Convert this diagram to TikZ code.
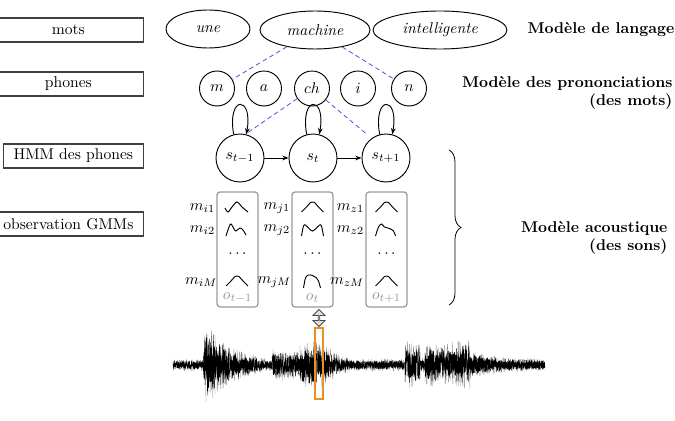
\documentclass[tikz,border=0pt]{standalone}
\usetikzlibrary{shapes.geometric,shapes.arrows,arrows.meta,decorations.pathreplacing}
\definecolor{orng}{RGB}{232,145,28}
\definecolor{lnkblue}{RGB}{80,80,215}
\def\pxu{0.64pt}
\begin{document}
\begin{tikzpicture}[x=0.64pt,y=0.64pt,
  lbox/.style={draw=black!75, line width=0.8pt, minimum height=24*\pxu, anchor=east, inner sep=2pt},
  word/.style={ellipse, draw, line width=0.6pt, minimum height=38*\pxu, font=\itshape, inner sep=1pt},
  phone/.style={circle, draw, line width=0.6pt, minimum size=35*\pxu, inner sep=0pt},
  state/.style={circle, draw, line width=0.6pt, minimum size=48*\pxu, inner sep=0pt},
  obsbox/.style={draw=black!40, rounded corners=2pt, minimum width=41*\pxu, minimum height=115*\pxu, line width=0.8pt},
  lnk/.style={draw=lnkblue, dash pattern=on 3pt off 2pt, line width=0.5pt},
  tr/.style={-{Stealth[length=4pt,width=3pt]}, line width=0.6pt},
  mlab/.style={anchor=east, inner sep=1pt},
  wave/.style={line width=0.3pt, black},
  wavefringe/.style={line width=0.2pt, black!50},
  gauss/.style={line width=0.6pt},
  gbump/.pic={\draw[gauss] plot[smooth] coordinates {(-11,-5)(-6,0)(-2,4.5)(0,5)(2,4.5)(6,0)(11,-5)};},
  gcheck/.pic={\draw[gauss] plot[smooth] coordinates {(-12,-1)(-9,-5)(-5,0)(0,5)(5,0)(11,-5)};},
  gmleft/.pic={\draw[gauss] plot[smooth] coordinates {(-11,-6)(-8,3)(-6,6)(-3,1)(-1,-1)(3,2)(6,0)(9,-5)};},
  gmeq/.pic={\draw[gauss] plot[smooth] coordinates {(-11,-6)(-9,4)(-7,5)(-3,1)(0,-1)(3,1)(7,5)(9,4)(11,-6)};},
  gskew/.pic={\draw[gauss] plot[smooth] coordinates {(-9,-7)(-7,3)(-4,6)(0,5.5)(4,3)(6,0)(8,-7)};},
  gshoulder/.pic={\draw[gauss] plot[smooth] coordinates {(-11,-6)(-8,3)(-5,6)(-2,3)(3,1.5)(7,-1)(9,-6)};}
]
\useasboundingbox (0,0) rectangle (675,-421);

% left boxes
\node[lbox, minimum width=150*\pxu] (bmots) at (144,-30) {mots};
\node[lbox, minimum width=150*\pxu] (bphones) at (144,-84) {phones};
\node[lbox, minimum width=140*\pxu] (bhmm) at (144,-156) {HMM des phones};
\node[lbox, minimum width=150*\pxu] (bobs) at (144,-224) {observation GMMs};

% words
\node[word, minimum width=84*\pxu] (une) at (208,-29) {une};
\node[word, minimum width=110*\pxu] (machine) at (315,-30) {machine};
\node[word, minimum width=134*\pxu] (intel) at (440,-30) {intelligente};

% phones
\node[phone] (m) at (217,-88.5) {$m$};
\node[phone] (a) at (264,-88.5) {$a$};
\node[phone] (ch) at (312,-88.5) {$ch$};
\node[phone] (i) at (358,-88.5) {$i$};
\node[phone] (n) at (409,-88.5) {$n$};

% states
\node[state] (s1) at (240,-158) {$s_{t-1}$};
\node[state] (s2) at (313,-158) {$s_{t}$};
\node[state] (s3) at (386,-158) {$s_{t+1}$};

\draw[tr] (s1) -- (s2);
\draw[tr] (s2) -- (s3);
\foreach \s in {s1,s2,s3}{
  \draw[tr] (\s.105) .. controls +(100:40) and +(80:40) .. (\s.75);
}

% dashed links
\draw[lnk] (machine) -- (m);
\draw[lnk] (machine) -- (n);
\draw[lnk, shorten >=1pt] (ch) -- (s1.77);
\draw[lnk, shorten >=5pt] (ch) -- (s3.126);

% observation boxes
\node[obsbox] (o1) at (237.5,-249.5) {};
\node[obsbox] (o2) at (312.5,-249.5) {};
\node[obsbox] (o3) at (386.5,-249.5) {};

\node[mlab] (mi1) at (217,-208) {$m_{i1}$};
\node[mlab] (mi2) at (217,-230) {$m_{i2}$};
\node[mlab] (miM) at (219,-282) {$m_{iM}$};
\node[mlab] (mj1) at (292,-208) {$m_{j1}$};
\node[mlab] (mj2) at (292,-230) {$m_{j2}$};
\node[mlab] (mjM) at (293,-282) {$m_{jM}$};
\node[mlab] (mz1) at (366,-208) {$m_{z1}$};
\node[mlab] (mz2) at (366,-230) {$m_{z2}$};
\node[mlab] (mzM) at (366,-282) {$m_{zM}$};

\node (d1) at (237.5,-254) {$\cdots$};
\node (d2) at (312.5,-254) {$\cdots$};
\node (d3) at (386.5,-254) {$\cdots$};

\node[text=black!40] (ot1) at (237.5,-298) {$o_{t-1}$};
\node[text=black!40] (ot2) at (312.5,-298) {$o_{t}$};
\node[text=black!40] (ot3) at (386.5,-298) {$o_{t+1}$};

\pic at (237,-207) {gcheck};
\pic at (237,-230) {gmleft};
\pic at (237,-281) {gbump};
\pic at (312.5,-207) {gbump};
\pic at (312.5,-230) {gmeq};
\pic at (312.5,-281) {gskew};
\pic at (386.5,-207) {gbump};
\pic at (386.5,-230) {gshoulder};
\pic at (386.5,-281) {gbump};

% brace
\draw[decorate, decoration={brace, amplitude=12*\pxu}, line width=0.5pt] (449,-150) -- (449,-305);

% right labels
\node[anchor=west, font=\bfseries] (lm) at (522,-30) {Modèle de langage};
\node[anchor=east, align=right, font=\bfseries] (pm) at (678,-93) {Modèle des prononciations\\(des mots)};
\node[anchor=east, align=right, font=\bfseries] (am) at (673,-238) {Modèle acoustique\\(des sons)};

% waveform
\pgfmathsetseed{7}
\foreach \xa/\xb/\aa/\ab in {173/203/5/6, 203/206/8/45, 206/215/45/32, 215/230/30/20, 230/262/18/7,
  262/272/6/6, 272/290/17/15, 290/300/13/15, 300/318/22/25, 318/335/25/14, 335/348/12/7,
  348/405/6/6, 405/420/25/20, 420/425/8/8, 425/445/22/20, 445/470/22/26, 470/500/14/8, 500/545/8/6}{
  \pgfmathtruncatemacro\ns{(\xb-\xa)*3+2}
  \pgfmathtruncatemacro\nc{(\xb-\xa)*8+2}
  \draw[wavefringe] plot[domain=\xa:\xb, samples=\ns] (\x, {-365 + (\aa+(\ab-\aa)*(\x-\xa)/(\xb-\xa))*rand});
  \draw[wave] plot[domain=\xa:\xb, samples=\nc] (\x, {-365 + 0.85*(\aa+(\ab-\aa)*(\x-\xa)/(\xb-\xa))*rand*(0.55+0.45*rnd)});
}

% frame marker
\draw[orng, line width=1.1pt] (315,-328) rectangle (323,-399);
\node[shape=double arrow, rotate=90, draw=black!70, fill=black!12, line width=0.5pt,
  minimum height=17*\pxu, minimum width=12*\pxu, inner sep=0pt, double arrow head extend=1.5pt] (dar) at (319,-318) {};
\end{tikzpicture}
\end{document}
